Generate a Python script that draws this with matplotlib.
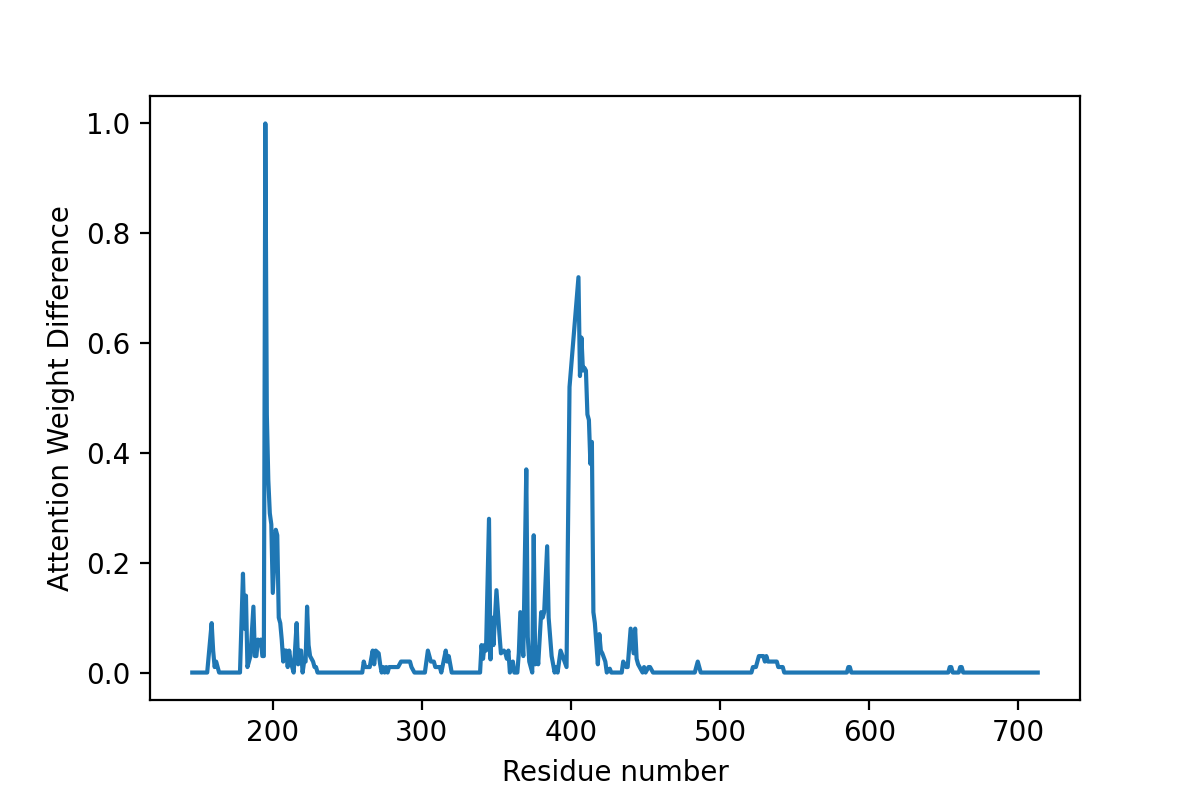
import matplotlib
matplotlib.use('Agg')
import matplotlib.pyplot as plt

# residue numbers where the curve changes (flat zero runs kept as endpoints)
residues_n_term = [146, 156, 159, 160, 161, 162, 163, 164, 178, 180, 181, 182, 183, 185, 187, 188,
                   189, 190, 191, 192, 193, 194, 195, 196, 197, 198, 199, 200, 202, 203, 204, 205,
                   206, 207, 208, 209, 210, 211, 212, 213, 214, 216, 217, 218, 219, 220, 221, 222,
                   223, 224, 225, 227, 228, 229, 230]
weights_n_term = [0, 0, 0.09, 0.04, 0.01, 0.02, 0.01, 0, 0, 0.18, 0.08, 0.14, 0.01, 0.03, 0.12, 0.03,
                  0.03, 0.06, 0.05, 0.06, 0.03, 0.03, 1.0, 0.47, 0.35, 0.29, 0.27, 0.145, 0.26, 0.25, 0.10, 0.09,
                  0.06, 0.02, 0.04, 0.04, 0.01, 0.04, 0.02, 0.01, 0, 0.09, 0.015, 0.04, 0.04, 0, 0.02, 0.02,
                  0.12, 0.05, 0.03, 0.02, 0.01, 0.01, 0]

residues_mid = [260, 261, 262, 265, 267, 268, 269, 271, 272, 273, 274, 275, 276, 277, 278, 280,
                284, 286, 292, 293, 295, 302, 304, 305, 306, 308, 309, 312, 313, 316, 317, 318,
                319, 320]
weights_mid = [0, 0.02, 0.01, 0.01, 0.04, 0.015, 0.04, 0.035, 0.015, 0, 0.01, 0, 0.01, 0, 0.01, 0.01,
               0.01, 0.02, 0.02, 0.01, 0, 0, 0.04, 0.03, 0.02, 0.02, 0.01, 0.01, 0, 0.04, 0.02, 0.03,
               0.015, 0]

residues_core = [339, 340, 341, 342, 343, 345, 346, 347, 348, 350, 352, 353, 355, 356, 357, 358,
                 359, 361, 362, 364, 365, 366, 368, 370, 371, 372, 374, 375, 376, 377, 378, 380,
                 381, 382, 384, 385, 387, 389, 390, 391, 393, 395, 397, 399, 405, 406, 407, 408,
                 409, 410, 411, 412, 413, 414, 415, 416, 418, 419, 420, 421, 423, 424, 426, 427]
weights_core = [0, 0.05, 0.025, 0.05, 0.04, 0.28, 0.024, 0.10, 0.05, 0.15, 0.07, 0.035, 0.04, 0.035, 0.025, 0.04,
                0, 0.02, 0, 0, 0.035, 0.11, 0.03, 0.37, 0.065, 0.02, 0, 0.25, 0.015, 0.045, 0.015, 0.11,
                0.10, 0.11, 0.23, 0.10, 0.03, 0, 0.01, 0, 0.04, 0.025, 0.01, 0.52, 0.72, 0.54, 0.61, 0.55,
                0.555, 0.55, 0.47, 0.46, 0.38, 0.42, 0.11, 0.09, 0.015, 0.07, 0.04, 0.035, 0.02, 0, 0.007, 0]

residues_c_term = [434, 435, 437, 438, 440, 442, 443, 444, 445, 446, 448, 449, 450, 452, 453, 455,
                   483, 485, 487, 521, 522, 524, 526, 529, 530, 531, 532, 538, 539, 542, 543, 585,
                   586, 587, 588, 653, 654, 655, 656, 660, 661, 662, 663, 713]
weights_c_term = [0, 0.02, 0.01, 0.01, 0.08, 0.035, 0.08, 0.025, 0.015, 0.01, 0, 0.01, 0, 0.01, 0.01, 0,
                  0, 0.02, 0, 0, 0.01, 0.01, 0.03, 0.03, 0.02, 0.03, 0.02, 0.02, 0.01, 0.01, 0, 0,
                  0.01, 0.01, 0, 0, 0.01, 0.01, 0, 0, 0.01, 0.01, 0, 0]

residues = residues_n_term + residues_mid + residues_core + residues_c_term
weights = weights_n_term + weights_mid + weights_core + weights_c_term

fig, ax = plt.subplots(figsize=(6, 4), dpi=200)
fig.subplots_adjust(bottom=0.125)

ax.plot(residues, weights)
ax.set_xlabel('Residue number')
ax.set_ylabel('Attention Weight Difference')

plt.savefig('out.png', dpi=200)
plt.close()
